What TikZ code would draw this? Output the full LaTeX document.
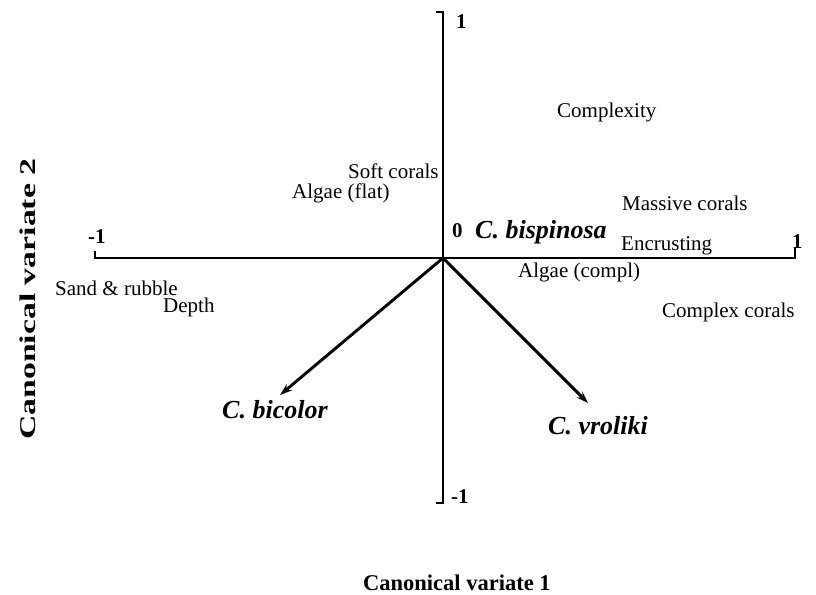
\documentclass[tikz,border=0pt]{standalone}
\usepackage{fontspec}
\setmainfont{Liberation Serif}
\usetikzlibrary{arrows.meta}
\begin{document}
\begin{tikzpicture}[x=1pt,y=-1pt,
  lbl/.style={font=\fontsize{21}{21}\selectfont, inner sep=0pt, anchor=base west},
  num/.style={font=\fontsize{21}{21}\selectfont\bfseries, inner sep=0pt, anchor=base west},
  species/.style={font=\fontsize{26}{26}\selectfont\bfseries\itshape, inner sep=0pt, anchor=base west},
  axtitle/.style={font=\fontsize{22.5}{22.5}\selectfont\bfseries, inner sep=0pt, anchor=base west},
  axisline/.style={line width=2.9pt, line join=miter, line cap=butt},
  vec/.style={line width=2.9pt, -{Stealth[length=12pt,width=8pt]}}]
\useasboundingbox (0,0) rectangle (816,594);
% axes
\coordinate (O) at (443,258);
\coordinate (L) at (95,258);
\coordinate (Lt) at (95,251);
\coordinate (R) at (795,258);
\coordinate (Rt) at (795,248);
\coordinate (T) at (443,12);
\coordinate (Tt) at (436,12);
\coordinate (B) at (443,503);
\coordinate (Bt) at (436,503);
\draw[axisline] (Lt) -- (L) -- (R) -- (Rt);
\draw[axisline] (Tt) -- (T) -- (B) -- (Bt);
% vectors
\coordinate (tipb) at (280,395);
\coordinate (tipv) at (588,403);
\draw[vec] (O) -- (tipb);
\draw[vec] (O) -- (tipv);
% numbers
\node[num] (n1t) at (456,29) {1};
\node[num] (nm1b) at (451,503) {-1};
\node[num] (nm1l) at (88,243) {-1};
\node[num] (n1r) at (792,248) {1};
\node[num] (n0) at (452,237) {0};
% variable labels
\node[lbl] (cx) at (557,117) {Complexity};
\node[lbl] (sc) at (348,178) {Soft corals};
\node[lbl] (af) at (292,198) {Algae (flat)};
\node[lbl] (mc) at (622,210) {Massive corals};
\node[lbl] (en) at (621,250) {Encrusting};
\node[lbl] (ac) at (518,277) {Algae (compl)};
\node[lbl] (cc) at (662,317) {Complex corals};
\node[lbl] (sr) at (55,295) {Sand \& rubble};
\node[lbl] (dp) at (163,312) {Depth};
% species
\node[species] (bisp) at (475,238) {C. bispinosa};
\node[species] (bico) at (222,418) {C. bicolor};
\node[species] (vrol) at (548,434) {C. vroliki};
% axis titles
\node[axtitle] (cv1) at (363,590) {Canonical variate 1};
\node[axtitle, rotate=90] (cv2) at (35,440) {\scalebox{1.5}[1]{Canonical variate 2}};
\end{tikzpicture}
\end{document}
